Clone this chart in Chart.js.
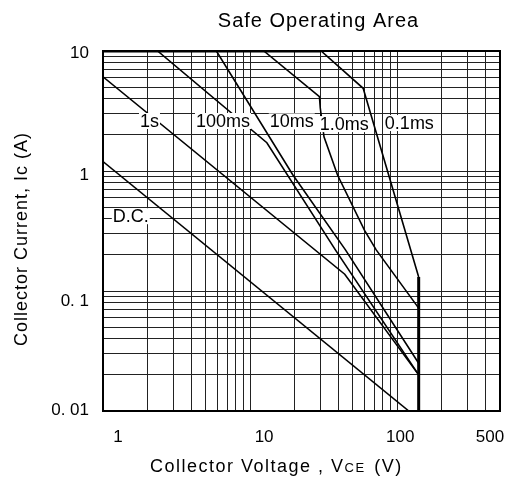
<!DOCTYPE html>
<html><head><meta charset="utf-8">
<script src="https://cdn.jsdelivr.net/npm/chart.js@4.4.1/dist/chart.umd.min.js"></script>
<style>html,body{margin:0;padding:0;background:#fff;}#wrap{width:530px;height:493px;position:relative;}</style>
</head><body><div id="wrap"><canvas id="c"></canvas></div>
<script>
// ---- text ----
const chartTitle = 'Safe Operating Area';
const xAxisTitleParts = ['Collector Voltage , V', 'CE', ' (V)'];
const yAxisTitle = 'Collector Current, Ic (A)';
const xTickValues = [1, 10, 100, 500];
const xTickLabels = ['1', '10', '100', '500'];
const yTickValues = [0.01, 0.1, 1, 10];
const yTickLabels = ['0. 01', '0. 1', '1', '10'];

// ---- curves (V in volts, I in amps) ----
const curveNames = ['D.C.', '1s', '100ms', '10ms', '1.0ms', '0.1ms'];
const dcV = [1, 120];
const dcI = [1.2, 0.01];
const s1V = [1, 44, 140];
const s1I = [6.1, 0.138, 0.02];
const ms100V = [2.35, 13, 38, 140];
const ms100I = [10, 1.72, 0.22, 0.02];
const ms10V = [5.9, 19.5, 44.5, 140];
const ms10I = [10, 0.93, 0.22, 0.025];
const ms1V = [12.4, 29.6, 30, 31.8, 39.3, 60, 72, 140];
const ms1I = [10, 4.16, 3.35, 1.93, 0.926, 0.32, 0.22, 0.072];
const ms01V = [1, 30.4, 58.7, 140];
const ms01I = [10, 10, 4.89, 0.131];
const limitV = [140, 140];
const limitI = [0.131, 0.01];

// grid positions (1..9 per decade)
function decadeGrid(lo, hi) {
  const out = [];
  for (let d = lo; d < hi * 1.0001; d *= 10) {
    for (let m = 1; m <= 9; m++) { const v = +(m * d).toPrecision(6); if (v <= hi * 1.0001) out.push(v); }
  }
  return out;
}
const gridX = decadeGrid(1, 500);
const gridY = decadeGrid(0.01, 10);

const toPts = (xs, ys) => xs.map((x, i) => ({ x: x, y: ys[i] }));
const FONT = 'Arial, "Liberation Sans", sans-serif';

// inline curve labels: anchor in data units
const curveLabelAnchors = {
  'D.C.': [1.545, 0.42], '1s': [2.07, 2.61], '100ms': [6.54, 2.61],
  '10ms': [19.2, 2.59], '1.0ms': [43.6, 2.46], '0.1ms': [121, 2.51]
};

const lineDs = (xs, ys, w) => ({
  data: toPts(xs, ys), showLine: true, borderColor: '#000', borderWidth: w || 1.6,
  pointRadius: 0, fill: false, tension: 0
});

const frameAndLabels = {
  id: 'frameAndLabels',
  afterDatasetsDraw(chart) {
    const ctx = chart.ctx, a = chart.chartArea, xs = chart.scales.x, ys = chart.scales.y;
    ctx.save();
    ctx.font = '18px ' + FONT;
    ctx.textAlign = 'center';
    ctx.textBaseline = 'middle';
    curveNames.forEach(n => {
      const p = curveLabelAnchors[n];
      const px = xs.getPixelForValue(p[0]), py = ys.getPixelForValue(p[1]);
      const w = ctx.measureText(n).width;
      ctx.fillStyle = '#fff';
      ctx.fillRect(px - w / 2 - 1, py - 8, w + 2, 16);
      ctx.fillStyle = '#000';
      ctx.fillText(n, px, py + 1);
    });
    ctx.strokeStyle = '#000';
    ctx.lineWidth = 2;
    ctx.strokeRect(a.left, a.top, a.right - a.left, a.bottom - a.top);
    ctx.restore();
  },
  afterDraw(chart) {
    const ctx = chart.ctx, a = chart.chartArea, xs = chart.scales.x, ys = chart.scales.y;
    ctx.save();
    ctx.fillStyle = '#000';
    // title
    ctx.font = '20px ' + FONT;
    ctx.letterSpacing = '1px';
    ctx.textAlign = 'center';
    ctx.textBaseline = 'middle';
    ctx.fillText(chartTitle, (a.left + a.right) / 2 + 17, 21);
    // tick labels
    ctx.font = '17px ' + FONT;
    ctx.letterSpacing = '0px';
    const xOff = [15, 14, 3, -10];
    xTickValues.forEach((v, i) => {
      ctx.fillText(xTickLabels[i], xs.getPixelForValue(v) + xOff[i], a.bottom + 26);
    });
    ctx.textAlign = 'right';
    const yOff = [-1, 10, 4, 2];
    yTickValues.forEach((v, i) => {
      ctx.fillText(yTickLabels[i], a.left - 14, ys.getPixelForValue(v) + yOff[i]);
    });
    // x axis title
    ctx.textAlign = 'left';
    ctx.textBaseline = 'alphabetic';
    ctx.letterSpacing = '1.5px';
    let x = 150; const base = 472;
    ctx.font = '18px ' + FONT;
    ctx.fillText(xAxisTitleParts[0], x, base); x += ctx.measureText(xAxisTitleParts[0]).width;
    ctx.font = '13px ' + FONT;
    ctx.fillText(xAxisTitleParts[1], x, base); x += ctx.measureText(xAxisTitleParts[1]).width + 2;
    ctx.font = '18px ' + FONT;
    ctx.fillText(xAxisTitleParts[2], x, base);
    // y axis title
    ctx.letterSpacing = '1px';
    ctx.translate(22, (a.top + a.bottom) / 2 + 8);
    ctx.rotate(-Math.PI / 2);
    ctx.textAlign = 'center';
    ctx.textBaseline = 'middle';
    ctx.font = '18px ' + FONT;
    ctx.fillText(yAxisTitle, 0, 0);
    ctx.restore();
  }
};

new Chart(document.getElementById('c'), {
  type: 'scatter',
  data: {
    datasets: [
      lineDs(dcV, dcI),
      lineDs(s1V, s1I),
      lineDs(ms100V, ms100I),
      lineDs(ms10V, ms10I),
      lineDs(ms1V, ms1I),
      Object.assign(lineDs(ms01V, ms01I), { segment: { borderWidth: c => c.p0DataIndex === 0 ? 3 : 1.6 } }),
      lineDs(limitV, limitI, 3)
    ]
  },
  options: {
    responsive: true, maintainAspectRatio: false, animation: false,
    layout: { padding: { left: 103, right: 30, top: 51, bottom: 82 } },
    plugins: { legend: { display: false }, tooltip: { enabled: false }, title: { display: false } },
    scales: {
      x: {
        type: 'logarithmic', min: 1, max: 500,
        afterBuildTicks: s => { s.ticks = gridX.map(v => ({ value: v })); },
        ticks: { display: false },
        grid: { color: '#222', lineWidth: 1, drawTicks: false },
        border: { display: false }
      },
      y: {
        type: 'logarithmic', min: 0.01, max: 10,
        afterBuildTicks: s => { s.ticks = gridY.map(v => ({ value: v })); },
        ticks: { display: false },
        grid: { color: '#222', lineWidth: 1, drawTicks: false },
        border: { display: false }
      }
    }
  },
  plugins: [frameAndLabels]
});
</script></body></html>
